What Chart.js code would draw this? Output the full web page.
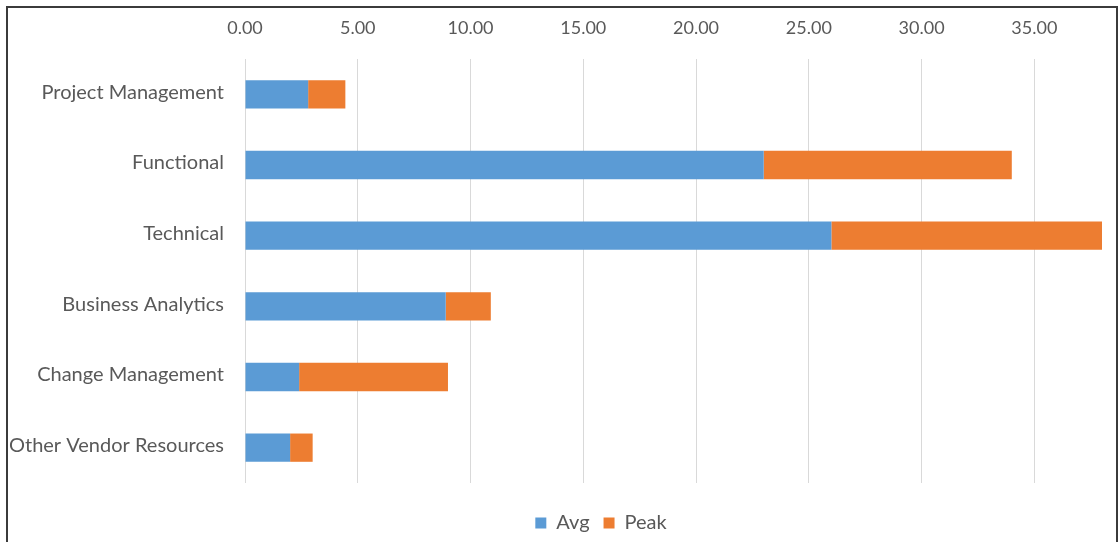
<!DOCTYPE html>
<html>
<head>
<meta charset="utf-8">
<title>Resource Avg / Peak</title>
<script src="https://cdn.jsdelivr.net/npm/chart.js@4"></script>
<style>
    html, body { margin: 0; padding: 0; background: #fff; overflow: hidden; }
    #wrap { position: relative; width: 1119px; height: 542px; overflow: hidden; }
    #chart { position: absolute; left: 0; top: 0; }
    #frame {
        position: absolute; left: 6px; top: 6px; width: 1108px; height: 560px;
        border: 2px solid #3b3b3b; pointer-events: none;
    }
</style>
</head>
<body>
<div id="wrap">
    <!-- tuval pencereden geniş: lejant merkezi referanstaki gibi sağa kayık -->
    <canvas id="chart" width="1202" height="560"></canvas>
    <div id="frame"></div>
</div>
<script>
// Veriler
const categories = [
    'Project Management',
    'Functional',
    'Technical',
    'Business Analytics',
    'Change Management',
    'Other Vendor Resources'
];
const avgValues = [2.8, 23, 26, 8.9, 2.4, 2];
const peakValues = [1.65, 11, 12, 2.0, 6.6, 1];
const axisMax = 38;
const axisStep = 5;

document.addEventListener('DOMContentLoaded', () => {
    initChart();
});

// görünmez boşluk ekseni
function spacer(axis, position, size) {
    return {
        axis: axis,
        type: 'linear',
        position: position,
        afterFit: s => {
            if (axis === 'x') s.height = size;
            else s.width = size;
        },
        grid: { display: false },
        border: { display: false },
        ticks: { display: false }
    };
}

function initChart() {
    const ctx = document.getElementById('chart').getContext('2d');

    Chart.defaults.color = '#595959';
    Chart.defaults.font.family = "Lato, 'Open Sans', sans-serif";

    new Chart(ctx, {
        type: 'bar',
        data: {
            labels: categories,
            datasets: [{
                label: 'Avg',
                data: avgValues,
                xAxisID: 'x',
                yAxisID: 'y',
                backgroundColor: '#5b9bd5',
                borderWidth: 0,
                categoryPercentage: 1,
                barPercentage: 0.4
            }, {
                label: 'Peak',
                data: peakValues,
                xAxisID: 'x',
                yAxisID: 'y',
                backgroundColor: '#ed7d31',
                borderWidth: 0,
                categoryPercentage: 1,
                barPercentage: 0.4
            }]
        },
        options: {
            indexAxis: 'y',
            responsive: false,
            animation: false,
            layout: { padding: { top: 0, right: 0, bottom: 17, left: 0 } },
            scales: {
                x: {
                    position: 'top',
                    stacked: true,
                    min: 0,
                    max: axisMax,
                    afterFit: s => { s.height = 59; },
                    grid: { color: '#d9d9d9', drawTicks: false },
                    border: { display: false },
                    ticks: {
                        stepSize: axisStep,
                        includeBounds: false,
                        padding: 20,
                        font: { size: 18 },
                        callback: v => Number(v).toFixed(2)
                    }
                },
                y: {
                    type: 'category',
                    stacked: true,
                    afterFit: s => { s.width = 245; },
                    grid: { display: false, drawTicks: false },
                    border: { display: false },
                    ticks: {
                        padding: 21,
                        labelOffset: -2,
                        font: { size: 20 }
                    }
                },
                gapBottom: spacer('x', 'bottom', 16),
                gapRight: spacer('y', 'right', 100)
            },
            plugins: {
                legend: {
                    position: 'bottom',
                    labels: {
                        boxWidth: 11,
                        boxHeight: 11,
                        padding: 14,
                        font: { size: 20 }
                    }
                },
                tooltip: { enabled: false }
            }
        }
    });
}
</script>
</body>
</html>
